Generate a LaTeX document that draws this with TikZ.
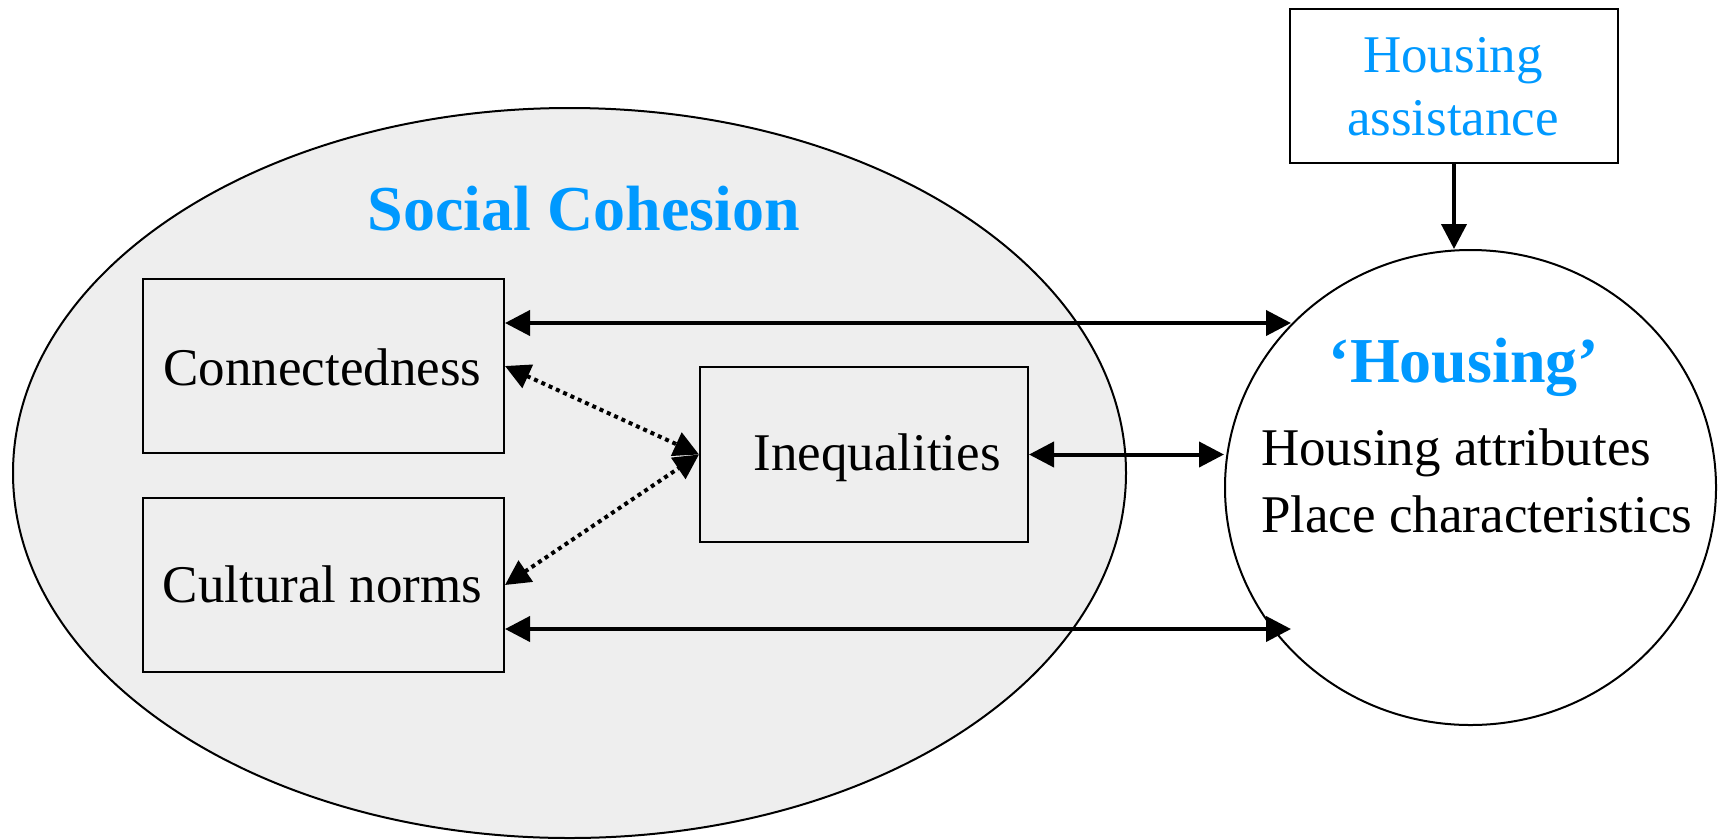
\documentclass[tikz,border=0pt]{standalone}
\usepackage{fontspec}
\setmainfont{Liberation Serif}
\usetikzlibrary{arrows.meta,shapes.geometric}
\definecolor{hblue}{RGB}{0,153,255}
\definecolor{scgray}{RGB}{238,238,238}
\tikzset{
  box/.style={draw=black,line width=2pt,inner sep=0pt,fill=scgray},
  wbox/.style={draw=black,line width=2pt,inner sep=0pt,fill=white},
  oval/.style={ellipse,draw=black,line width=2pt,inner sep=0pt},
  txt/.style={anchor=base,inner sep=0pt,font=\fontsize{53}{60}\selectfont},
  title/.style={anchor=base,inner sep=0pt,text=hblue,font=\fontsize{64}{72}\selectfont\bfseries},
  link/.style={line width=4pt,{Triangle[length=25pt,width=25pt]}-{Triangle[length=25pt,width=25pt]}},
  down/.style={line width=4pt,-{Triangle[length=25pt,width=25pt]}},
  dotlink/.style={line width=4pt,dash pattern=on 4pt off 4pt,{Triangle[length=25pt,width=25pt]}-{Triangle[length=25pt,width=25pt]}}
}
\begin{document}
\begin{tikzpicture}[x=1pt,y=-1pt]
\useasboundingbox (0,0) rectangle (1723,839);
% big ellipse
\node[oval,fill=scgray,minimum width=1113pt,minimum height=730pt] (sc) at (569.5,473) {};
% housing circle
\node[oval,fill=white,minimum width=491pt,minimum height=475pt] (hous) at (1470.5,487.5) {};
% boxes
\node[box,minimum width=361pt,minimum height=174pt] (conn) at (323.5,366) {};
\node[box,minimum width=361pt,minimum height=174pt] (cult) at (323.5,585) {};
\node[box,minimum width=328pt,minimum height=175pt] (ineq) at (864,454.5) {};
\node[wbox,minimum width=328pt,minimum height=154pt] (ha) at (1454,86) {};
% texts
\node[title] (sctxt) at (584,230) {Social Cohesion};
\node[title] (houstxt) at (1464,382) {‘Housing’};
\node[txt,anchor=base west] (attr) at (1261,465) {Housing attributes};
\node[txt,anchor=base west] (place) at (1261,532) {Place characteristics};
\node[txt] (conntxt) at (322.5,385) {Connectedness};
\node[txt] (culttxt) at (322.5,602) {Cultural norms};
\node[txt] (ineqtxt) at (877,470) {Inequalities};
\node[txt,text=hblue] (ha1) at (1453,72) {Housing};
\node[txt,text=hblue] (ha2) at (1453,135) {assistance};
% connectors
\coordinate (h1) at (1291,323);
\coordinate (h2) at (1291,629);
\draw[link] (conn.east |- h1) -- (h1);
\draw[link] (cult.east |- h2) -- (h2);
\draw[link] (ineq.east) -- (ineq.east -| hous.west);
\draw[dotlink] (conn.east) -- (ineq.west);
\draw[dotlink] (cult.east) -- (ineq.west);
\draw[down] (ha.south) -- (ha.south |- hous.north);
\end{tikzpicture}
\end{document}
